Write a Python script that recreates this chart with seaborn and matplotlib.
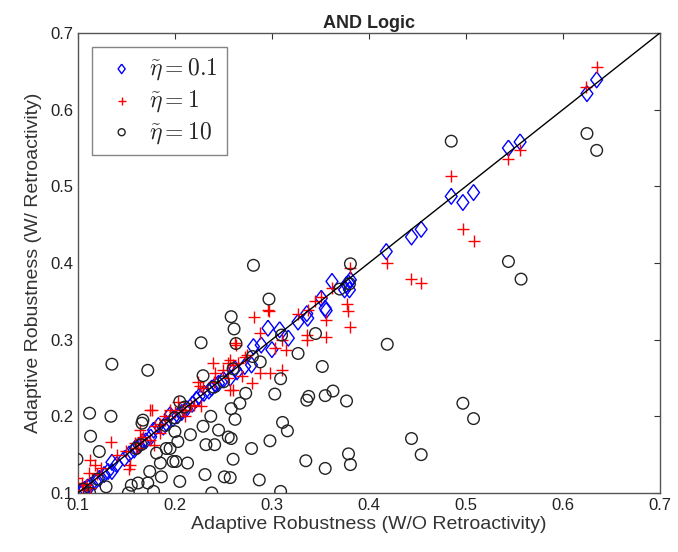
import matplotlib
matplotlib.use("Agg")
import matplotlib.pyplot as plt
import seaborn as sns
import pandas as pd

# eta = 0.1 (blue diamonds)
x_e01 = [0.103, 0.107, 0.110, 0.113, 0.118, 0.122, 0.127, 0.131, 0.135, 0.140, 0.148, 0.153,
         0.158, 0.160, 0.163, 0.167, 0.170, 0.175, 0.178, 0.183, 0.188, 0.191, 0.195, 0.198,
         0.203, 0.207, 0.212, 0.218, 0.222, 0.225, 0.230, 0.235, 0.238, 0.242, 0.245, 0.250,
         0.257, 0.264, 0.272, 0.279, 0.281, 0.289, 0.296, 0.300, 0.308, 0.317, 0.327, 0.336,
         0.337, 0.351, 0.355, 0.356, 0.362, 0.375, 0.377, 0.379, 0.380, 0.381, 0.418, 0.444,
         0.454, 0.485, 0.497, 0.508, 0.544, 0.556, 0.625, 0.635, 0.135, 0.262]
y_e01 = [0.101, 0.105, 0.108, 0.110, 0.115, 0.119, 0.124, 0.128, 0.140, 0.137, 0.145, 0.151,
         0.156, 0.160, 0.162, 0.167, 0.168, 0.173, 0.182, 0.188, 0.186, 0.191, 0.202, 0.197,
         0.201, 0.205, 0.210, 0.216, 0.222, 0.226, 0.230, 0.233, 0.237, 0.241, 0.243, 0.248,
         0.250, 0.258, 0.265, 0.267, 0.291, 0.293, 0.315, 0.287, 0.313, 0.302, 0.323, 0.334,
         0.328, 0.354, 0.341, 0.338, 0.376, 0.365, 0.372, 0.374, 0.365, 0.378, 0.415, 0.434,
         0.444, 0.487, 0.479, 0.492, 0.550, 0.558, 0.621, 0.639, 0.128, 0.262]

# eta = 1 (red pluses)
x_e1 = [0.624, 0.635, 0.556, 0.544, 0.485, 0.497, 0.508, 0.444, 0.454, 0.419, 0.381, 0.362,
        0.377, 0.379, 0.381, 0.351, 0.344, 0.356, 0.356, 0.327, 0.337, 0.336, 0.336, 0.310,
        0.296, 0.282, 0.288, 0.303, 0.315, 0.288, 0.298, 0.310, 0.279, 0.297, 0.262, 0.257,
        0.260, 0.265, 0.272, 0.269, 0.260, 0.263, 0.274, 0.255, 0.239, 0.241, 0.224, 0.226,
        0.229, 0.227, 0.257, 0.203, 0.207, 0.195, 0.210, 0.217, 0.176, 0.190, 0.179, 0.185,
        0.174, 0.178, 0.174, 0.164, 0.167, 0.134, 0.159, 0.162, 0.154, 0.153, 0.112, 0.118,
        0.124, 0.111, 0.099, 0.104, 0.105, 0.112, 0.150, 0.160, 0.165, 0.185, 0.190, 0.200,
        0.210, 0.220, 0.240, 0.250, 0.255, 0.108, 0.120, 0.140]
y_e1 = [0.630, 0.656, 0.547, 0.536, 0.513, 0.444, 0.429, 0.379, 0.374, 0.400, 0.394, 0.368,
        0.347, 0.337, 0.317, 0.356, 0.350, 0.326, 0.303, 0.333, 0.339, 0.306, 0.300, 0.300,
        0.339, 0.330, 0.309, 0.289, 0.287, 0.256, 0.256, 0.260, 0.243, 0.337, 0.295, 0.274,
        0.267, 0.269, 0.278, 0.252, 0.234, 0.293, 0.280, 0.269, 0.269, 0.256, 0.245, 0.239,
        0.237, 0.213, 0.234, 0.219, 0.208, 0.208, 0.208, 0.213, 0.208, 0.195, 0.187, 0.178,
        0.169, 0.163, 0.208, 0.182, 0.173, 0.167, 0.165, 0.158, 0.137, 0.131, 0.143, 0.137,
        0.132, 0.126, 0.119, 0.113, 0.104, 0.106, 0.155, 0.158, 0.170, 0.190, 0.200, 0.205,
        0.200, 0.215, 0.245, 0.260, 0.250, 0.110, 0.125, 0.150]

# eta = 10 (black circles)
x_e10 = [0.485, 0.625, 0.635, 0.544, 0.557, 0.497, 0.508, 0.444, 0.454, 0.281, 0.381, 0.297,
         0.345, 0.327, 0.419, 0.288, 0.352, 0.309, 0.303, 0.336, 0.338, 0.355, 0.363, 0.377,
         0.311, 0.316, 0.298, 0.279, 0.335, 0.355, 0.379, 0.381, 0.287, 0.309, 0.258, 0.261,
         0.263, 0.273, 0.267, 0.258, 0.262, 0.258, 0.260, 0.257, 0.227, 0.135, 0.172, 0.229,
         0.205, 0.237, 0.112, 0.134, 0.167, 0.200, 0.216, 0.229, 0.232, 0.241, 0.255, 0.113,
         0.122, 0.191, 0.201, 0.213, 0.203, 0.231, 0.251, 0.205, 0.162, 0.172, 0.178, 0.152,
         0.099, 0.129, 0.112, 0.155, 0.185, 0.174, 0.198, 0.195, 0.166, 0.245, 0.181, 0.238,
         0.186, 0.105, 0.120, 0.160, 0.165, 0.190, 0.200, 0.210, 0.240, 0.250, 0.260, 0.280,
         0.310, 0.370, 0.380]
y_e10 = [0.559, 0.569, 0.547, 0.402, 0.379, 0.217, 0.197, 0.171, 0.150, 0.397, 0.399, 0.353,
         0.308, 0.282, 0.294, 0.271, 0.265, 0.249, 0.229, 0.221, 0.226, 0.227, 0.233, 0.220,
         0.192, 0.181, 0.168, 0.158, 0.142, 0.132, 0.151, 0.137, 0.117, 0.102, 0.330, 0.314,
         0.295, 0.230, 0.217, 0.210, 0.196, 0.171, 0.144, 0.120, 0.296, 0.268, 0.260, 0.253,
         0.219, 0.200, 0.204, 0.200, 0.195, 0.180, 0.176, 0.187, 0.163, 0.163, 0.173, 0.174,
         0.154, 0.158, 0.141, 0.139, 0.167, 0.124, 0.121, 0.115, 0.113, 0.113, 0.102, 0.100,
         0.144, 0.108, 0.100, 0.110, 0.139, 0.128, 0.141, 0.158, 0.191, 0.182, 0.152, 0.100,
         0.121, 0.105, 0.118, 0.158, 0.163, 0.188, 0.198, 0.212, 0.238, 0.245, 0.262, 0.278,
         0.306, 0.366, 0.373]

diag = [0.1, 0.7]
ticks = [0.1, 0.2, 0.3, 0.4, 0.5, 0.6, 0.7]
labels = [r"$\tilde{\eta}=0.1$", r"$\tilde{\eta}=1$", r"$\tilde{\eta}=10$"]

sns.set_theme(style="white")
plt.rcParams['font.family'] = ['Liberation Sans', 'DejaVu Sans']
plt.rcParams['mathtext.fontset'] = 'cm'

fig = plt.figure(figsize=(6.78, 5.52), dpi=100)
ax = fig.add_axes([0.115, 0.107, 0.858, 0.833])

d1 = pd.DataFrame({"x": x_e01, "y": y_e01})
d2 = pd.DataFrame({"x": x_e1, "y": y_e1})
d3 = pd.DataFrame({"x": x_e10, "y": y_e10})

diamond = [(0, 1), (0.75, 0), (0, -1), (-0.75, 0), (0, 1)]

sns.scatterplot(data=d1, x="x", y="y", ax=ax, marker=diamond, s=130, facecolors="none",
                edgecolor="#0000ff", linewidth=1.0, label=labels[0], zorder=3)
sns.scatterplot(data=d2, x="x", y="y", ax=ax, marker="+", s=80, color="#ff0000",
                linewidth=1.0, label=labels[1], zorder=3)
sns.scatterplot(data=d3, x="x", y="y", ax=ax, marker="o", s=70, facecolors="none",
                edgecolor="#222222", linewidth=1.0, label=labels[2], zorder=3)
sns.lineplot(x=diag, y=diag, ax=ax, color="black", linewidth=1.0, zorder=4)

ax.set_xlim(0.1, 0.7)
ax.set_ylim(0.1, 0.7)
ax.set_xticks(ticks)
ax.set_yticks(ticks)
ax.set_xticklabels([f"{t:g}" for t in ticks])
ax.set_yticklabels([f"{t:g}" for t in ticks])
ax.tick_params(direction="in", length=4, width=0.8, colors="#333333", labelsize=12,
               top=True, right=True, labelcolor="#222222")
for sp in ax.spines.values():
    sp.set_visible(True)
    sp.set_color("#555555")
    sp.set_linewidth(1.0)

ax.set_title("AND Logic", fontsize=13, fontweight="bold", pad=4)
ax.set_xlabel("Adaptive Robustness (W/O Retroactivity)", fontsize=14, color="#333333", labelpad=2)
ax.set_ylabel("Adaptive Robustness (W/ Retroactivity)", fontsize=14, color="#333333", labelpad=6)

leg = ax.legend(loc="upper left", fontsize=17, frameon=True, fancybox=False,
                edgecolor="#666666", borderpad=0.4, handletextpad=0.3, labelspacing=0.25,
                markerscale=0.6, handlelength=1.7, borderaxespad=0.6)
leg.get_frame().set_linewidth(1.0)

fig.savefig("out.png", dpi=100)
